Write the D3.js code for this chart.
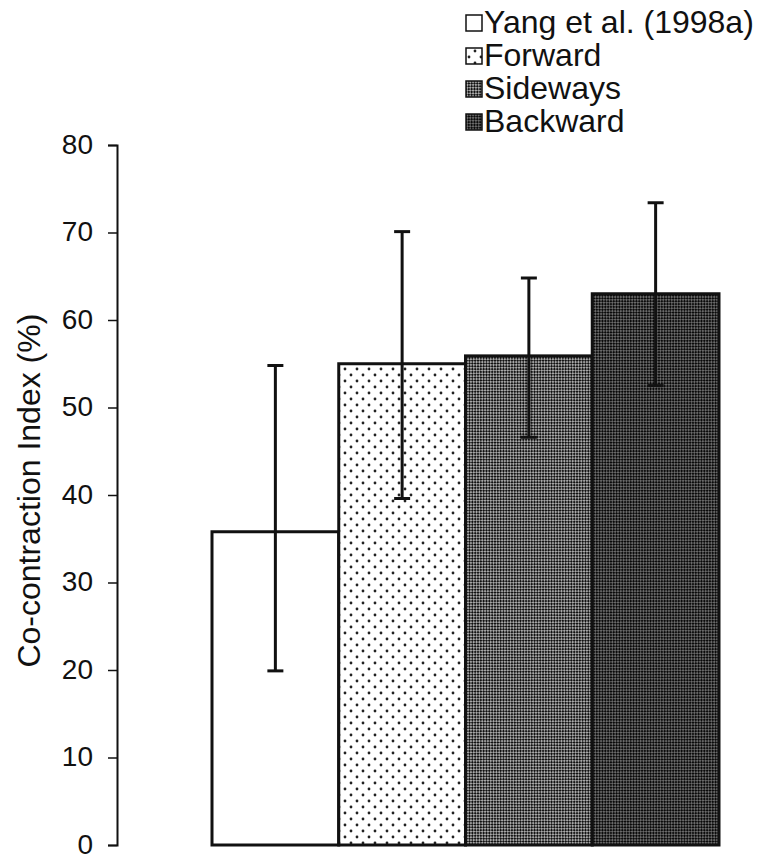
<!DOCTYPE html>
<html>
<head>
<meta charset="utf-8">
<script src="https://cdn.jsdelivr.net/npm/d3@7"></script>
<style>
  body { margin: 0; background: #fff; }
  svg { display: block; font-family: "Liberation Sans", Arial, sans-serif; }
</style>
</head>
<body>
<div id="chart"></div>
<script>
// data
var categories = ["Yang et al. (1998a)", "Forward", "Sideways", "Backward"];
var means = [35.8, 55.0, 55.9, 63.0];
var errLow = [19.9, 39.6, 46.6, 52.5];
var errHigh = [54.8, 70.1, 64.8, 73.4];
var yTicks = [0, 10, 20, 30, 40, 50, 60, 70, 80];

var svgWidth = 760;
var svgHeight = 857;

var svg = d3.select("#chart")
  .append("svg")
  .attr("width", svgWidth)
  .attr("height", svgHeight);

// fill patterns for the four bars
var defs = svg.append("defs");

var dots = defs.append("pattern")
  .attr("id", "pat-dots")
  .attr("patternUnits", "userSpaceOnUse")
  .attr("width", 12).attr("height", 12);
dots.append("rect").attr("width", 12).attr("height", 12).attr("fill", "#fff");
dots.append("circle").attr("cx", 3).attr("cy", 3).attr("r", 1.4).attr("fill", "#222");
dots.append("circle").attr("cx", 9).attr("cy", 9).attr("r", 1.4).attr("fill", "#222");

function checker(id, dark, light) {
  var p = defs.append("pattern")
    .attr("id", id)
    .attr("patternUnits", "userSpaceOnUse")
    .attr("width", 4).attr("height", 4)
    .attr("patternTransform", "rotate(45)");
  p.append("rect").attr("width", 4).attr("height", 4).attr("fill", light);
  p.append("rect").attr("width", 2).attr("height", 2).attr("fill", dark);
  p.append("rect").attr("x", 2).attr("y", 2).attr("width", 2).attr("height", 2).attr("fill", dark);
}
checker("pat-side", "#111", "#a8a8a8");
checker("pat-back", "#0a0a0a", "#6a6a6a");

var fills = ["#fff", "url(#pat-dots)", "url(#pat-side)", "url(#pat-back)"];

var x = d3.scaleBand()
  .domain(categories)
  .range([212, 719])
  .padding(0);

var y = d3.scaleLinear()
  .domain([0, 80])
  .range([845, 145]);

// y axis
var leftAxis = d3.axisLeft(y)
  .tickValues(yTicks)
  .tickSize(9)
  .tickPadding(15)
  .tickFormat(d3.format("d"));

var axisG = svg.append("g")
  .attr("transform", "translate(117, 0)")
  .call(leftAxis);
axisG.select(".domain").attr("stroke", "#111").attr("stroke-width", 2);
axisG.selectAll(".tick line").attr("stroke", "#111").attr("stroke-width", 1.5);
axisG.selectAll(".tick text")
  .attr("font-size", "28px")
  .attr("dy", "0.3em")
  .attr("font-family", "Liberation Sans, Arial, sans-serif")
  .attr("fill", "#111");

svg.append("text")
  .attr("transform", "translate(40, " + y(40.5) + ") rotate(-90)")
  .attr("text-anchor", "middle")
  .attr("font-size", "32px")
  .attr("fill", "#111")
  .text("Co-contraction Index (%)");

// bars
svg.selectAll("rect.bar")
  .data(categories)
  .enter().append("rect")
  .attr("class", "bar")
  .attr("x", d => x(d))
  .attr("y", (d, i) => y(means[i]))
  .attr("width", x.bandwidth())
  .attr("height", (d, i) => y(0) - y(means[i]))
  .attr("fill", (d, i) => fills[i])
  .attr("stroke", "#111")
  .attr("stroke-width", 3);

// error bars
var capW = 16;
var errG = svg.append("g")
  .attr("stroke", "#111")
  .attr("stroke-width", 3);

categories.forEach(function(c, i) {
  var cx = x(c) + x.bandwidth() / 2;
  errG.append("line")
    .attr("x1", cx).attr("x2", cx)
    .attr("y1", y(errLow[i])).attr("y2", y(errHigh[i]));
  errG.append("line")
    .attr("x1", cx - capW / 2).attr("x2", cx + capW / 2)
    .attr("y1", y(errLow[i])).attr("y2", y(errLow[i]));
  errG.append("line")
    .attr("x1", cx - capW / 2).attr("x2", cx + capW / 2)
    .attr("y1", y(errHigh[i])).attr("y2", y(errHigh[i]));
});

// legend
var legend = svg.append("g")
  .attr("transform", "translate(466, 0)");

var rows = legend.selectAll("g")
  .data(categories)
  .enter().append("g")
  .attr("transform", (d, i) => "translate(0, " + (33 + i * 33) + ")");

rows.append("rect")
  .attr("x", 0)
  .attr("y", -18)
  .attr("width", 16)
  .attr("height", 16)
  .attr("fill", (d, i) => fills[i])
  .attr("stroke", "#111")
  .attr("stroke-width", 1.5);

rows.append("text")
  .attr("x", 18)
  .attr("y", 0)
  .attr("font-size", "32px")
  .attr("fill", "#111")
  .text(d => d);
</script>
</body>
</html>
